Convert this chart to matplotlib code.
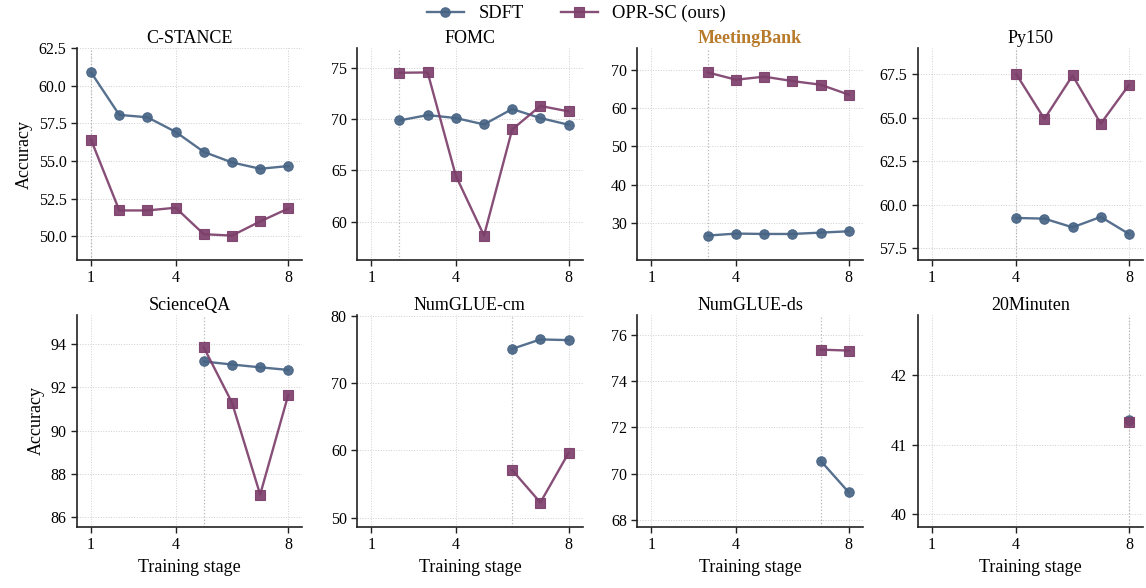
import matplotlib
matplotlib.use("Agg")
import matplotlib.pyplot as plt
import numpy as np

plt.rcParams['font.family'] = ['Liberation Serif', 'DejaVu Serif']
plt.rcParams['mathtext.fontset'] = 'stix'

tasks = ["C-STANCE", "FOMC", "MeetingBank", "Py150",
         "ScienceQA", "NumGLUE-cm", "NumGLUE-ds", "20Minuten"]
stages = [1, 2, 3, 4, 5, 6, 7, 8]
xtick_labels = ["1", "4", "8"]

sdft_cstance = [60.88, 58.06, 57.90, 56.93, 55.60, 54.90, 54.48, 54.66]
sdft_fomc = [69.87, 70.39, 70.10, 69.48, 70.98, 70.10, 69.45]
sdft_meetingbank = [26.68, 27.20, 27.10, 27.10, 27.45, 27.80]
sdft_py150 = [59.23, 59.19, 58.69, 59.29, 58.31]
sdft_scienceqa = [93.20, 93.06, 92.93, 92.81]
sdft_numglue_cm = [75.07, 76.47, 76.37]
sdft_numglue_ds = [70.56, 69.19]
sdft_20minuten = [41.36]

opr_cstance = [56.40, 51.71, 51.71, 51.89, 50.13, 50.04, 50.98, 51.84]
opr_fomc = [74.51, 74.54, 64.48, 58.66, 68.99, 71.28, 70.75]
opr_meetingbank = [69.30, 67.40, 68.20, 67.05, 66.10, 63.50]
opr_py150 = [67.50, 64.92, 67.42, 64.65, 66.87]
opr_scienceqa = [93.85, 91.30, 87.05, 91.67]
opr_numglue_cm = [57.06, 52.24, 59.60]
opr_numglue_ds = [75.36, 75.32]
opr_20minuten = [41.32]

sdft_all = [sdft_cstance, sdft_fomc, sdft_meetingbank, sdft_py150,
            sdft_scienceqa, sdft_numglue_cm, sdft_numglue_ds, sdft_20minuten]
opr_all = [opr_cstance, opr_fomc, opr_meetingbank, opr_py150,
           opr_scienceqa, opr_numglue_cm, opr_numglue_ds, opr_20minuten]

c_sdft = '#476485'
c_opr = '#7d3f6b'
c_highlight = '#b87a2b'

fig, axes = plt.subplots(2, 4, figsize=(11.46, 5.88), dpi=100)
fig.subplots_adjust(left=0.0672, right=0.9974, top=0.9184, bottom=0.1037,
                    wspace=0.243, hspace=0.259)

handles = None
for i, ax in enumerate(axes.flat):
    start = i + 1
    xs = stages[i:]
    s = sdft_all[i]
    o = opr_all[i]
    ax.grid(True, ls=':', lw=0.7, color='#cfcfcf')
    ax.set_axisbelow(True)
    ax.axvline(start, color='#9a9a9a', ls=':', lw=0.9, alpha=0.7, zorder=1)
    h1, = ax.plot(xs, s, '-o', color=c_sdft, lw=1.7, ms=6.8, mew=0.8,
                  alpha=0.92, label='SDFT', zorder=3)
    h2, = ax.plot(xs, o, '-s', color=c_opr, lw=1.7, ms=6.5, mew=0.8,
                  alpha=0.92, label='OPR-SC (ours)', zorder=3)
    handles = [h1, h2]
    vals = s + o
    lo, hi = min(vals), max(vals)
    pad = max(0.15 * (hi - lo), 1.5)
    ax.set_ylim(lo - pad, hi + pad)
    ax.set_xlim(0.5, 8.5)
    ax.set_xticks([1, 4, 8])
    ax.set_xticklabels(xtick_labels)
    ax.tick_params(axis='both', labelsize=11.5, direction='out', length=4,
                   width=1.0, color='#222222')
    for sp in ['top', 'right']:
        ax.spines[sp].set_visible(False)
    for sp in ['left', 'bottom']:
        ax.spines[sp].set_linewidth(1.2)
        ax.spines[sp].set_color('#222222')
    if tasks[i] == "MeetingBank":
        ax.set_title(tasks[i], fontsize=13, color=c_highlight,
                     fontweight='bold', pad=3.5)
    else:
        ax.set_title(tasks[i], fontsize=13, pad=3.5)
    if i % 4 == 0:
        ax.set_ylabel('Accuracy', fontsize=13)
    if i >= 4:
        ax.set_xlabel('Training stage', fontsize=13)

fig.legend(handles, ['SDFT', 'OPR-SC (ours)'], loc='upper center',
           bbox_to_anchor=(0.503, 1.02), ncol=2, frameon=False, fontsize=13.3,
           columnspacing=2.0, handlelength=2.0, handletextpad=0.8)

fig.savefig('out.png', dpi=100)
